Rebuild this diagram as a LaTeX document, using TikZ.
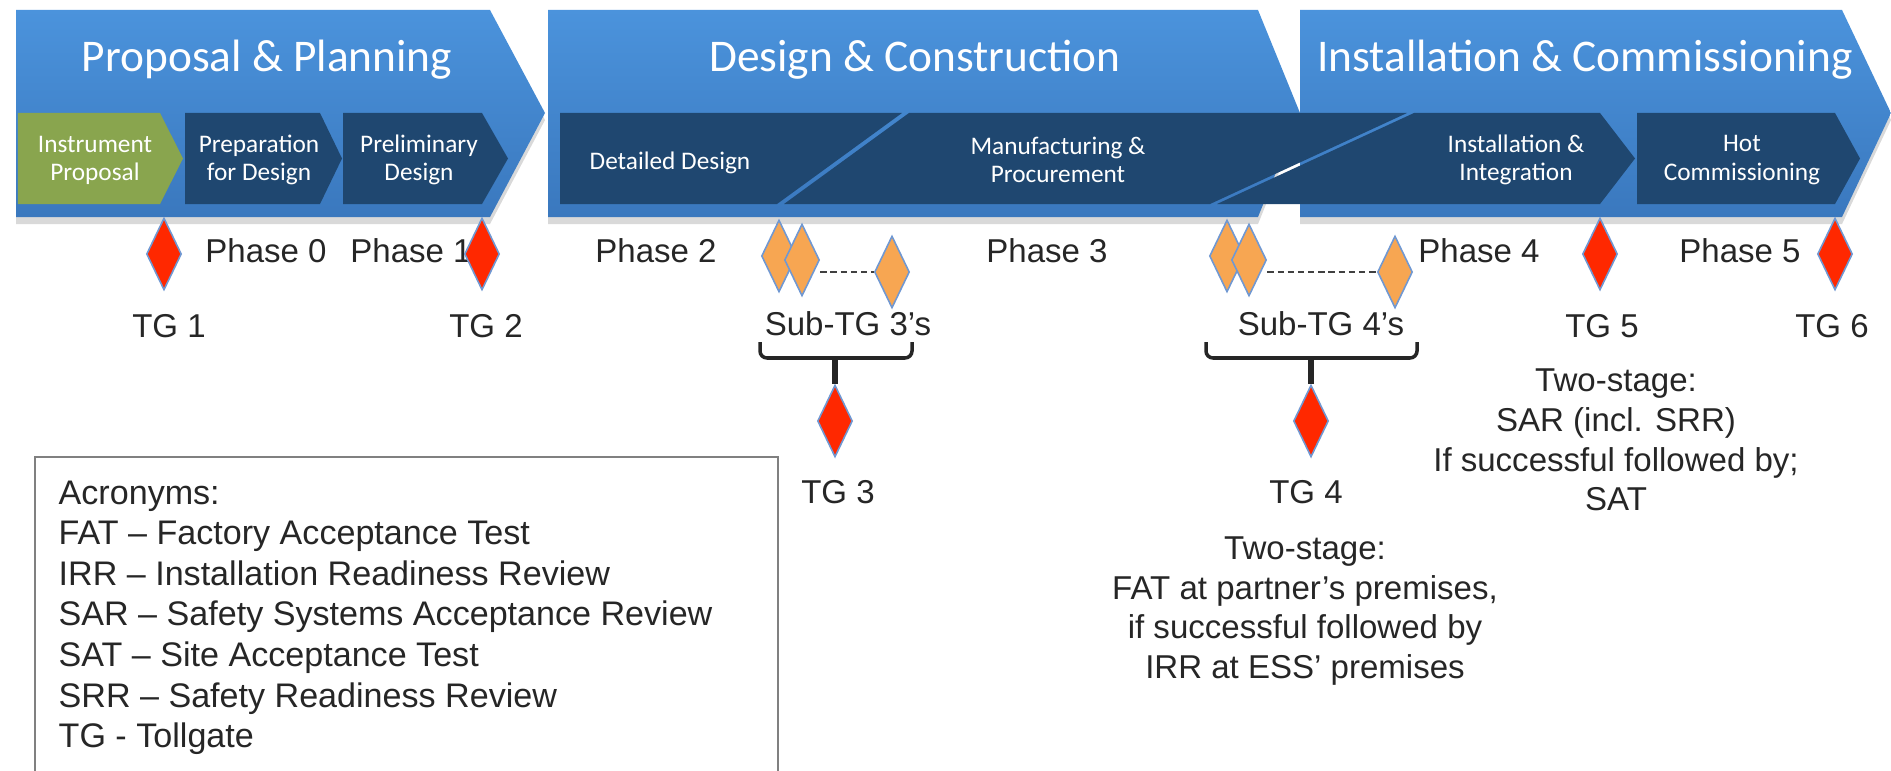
\documentclass[tikz,border=0pt]{standalone}
\usepackage{fontspec}
\setmainfont{Liberation Sans}
\newfontfamily\calibri{Carlito}
\usetikzlibrary{shapes.geometric,shadows,calc}
\definecolor{phblue}{RGB}{75,147,220}
\definecolor{phbluedk}{RGB}{58,120,190}
\definecolor{stnavy}{RGB}{31,71,112}
\definecolor{stgreen}{RGB}{137,165,78}
\definecolor{tgred}{RGB}{255,40,0}
\definecolor{tgorange}{RGB}{247,166,82}
\definecolor{tgedge}{RGB}{112,152,210}

\begin{document}
\begin{tikzpicture}[
    phase/.style={top color=phblue, bottom color=phbluedk,
                  drop shadow={shadow xshift=0pt, shadow yshift=-2pt, opacity=0.3}},
    stage/.style={fill=stnavy},
    title/.style={font=\calibri\fontsize{12.9}{15}\selectfont, text=white, anchor=base},
    stagetxt/.style={font=\calibri\fontsize{7.2}{8}\selectfont, text=white, align=center},
    gate/.style={diamond, draw=tgedge, line width=0.45pt, fill=tgred,
                 minimum width=0.35cm, minimum height=0.72cm, inner sep=0pt},
    subgate/.style={gate, fill=tgorange},
    lbl/.style={font=\fontsize{9.4}{11.3}\selectfont, text=black!85, anchor=base},
    note/.style={font=\fontsize{9.4}{11.3}\selectfont, text=black!85, align=center},
    brace/.style={line width=1pt, rounded corners=2pt, black!85},
    stem/.style={line width=1.5pt, black!85},
    dashline/.style={dash pattern=on 1.8pt off 1.1pt, line width=0.8pt, black!75}
  ]
  \useasboundingbox (0,0) rectangle (18.91,7.70);

  \path[phase] (0.16,7.60) -- (4.90,7.60) -- (5.45,6.57) -- (4.90,5.53) -- (0.16,5.53) -- cycle;
  \path[phase] (5.48,7.60) -- (12.58,7.60) -- (13.00,6.57) -- (12.58,5.53) -- (5.48,5.53) -- cycle;
  \path[phase] (13.00,7.60) -- (18.42,7.60) -- (18.91,6.57) -- (18.42,5.53) -- (13.00,5.53) -- cycle;

  \fill[stgreen] (0.18,6.57) -- (1.60,6.57) -- (1.83,6.115) -- (1.60,5.66) -- (0.18,5.66) -- cycle;
  \fill[stage] (1.85,6.57) -- (3.20,6.57) -- (3.42,6.115) -- (3.20,5.66) -- (1.85,5.66) -- cycle;
  \fill[stage] (3.43,6.57) -- (4.82,6.57) -- (5.08,6.115) -- (4.82,5.66) -- (3.43,5.66) -- cycle;
  \fill[stage] (5.60,6.57) -- (9.02,6.57) -- (7.77,5.66) -- (5.60,5.66) -- cycle;
  \fill[stage] (9.09,6.57) -- (14.07,6.57) -- (12.10,5.66) -- (7.84,5.66) -- cycle;
  \fill[stage] (14.14,6.57) -- (16.00,6.57) -- (16.35,6.115) -- (16.00,5.66) -- (12.17,5.66) -- cycle;
  \fill[stage] (16.37,6.57) -- (18.35,6.57) -- (18.60,6.115) -- (18.35,5.66) -- (16.37,5.66) -- cycle;

  \node[title] (pp) at (2.67,6.98) {Proposal \& Planning};
  \node[title] (dc) at (9.15,6.98) {Design \& Construction};
  \node[title] (ic) at (15.85,6.98) {Installation \& Commissioning};

  \node[stagetxt] (ip) at (0.95,6.10) {Instrument\\Proposal};
  \node[stagetxt] (pd) at (2.59,6.10) {Preparation\\for Design};
  \node[stagetxt] (prd) at (4.19,6.10) {Preliminary\\Design};
  \node[stagetxt] (dd) at (6.70,6.07) {Detailed Design};
  \node[stagetxt] (mp) at (10.58,6.10) {Manufacturing \&\\Procurement};
  \node[stagetxt] (ii) at (15.16,6.10) {Installation \&\\Integration};
  \node[stagetxt] (hc) at (17.42,6.10) {Hot\\Commissioning};

  \node[lbl] (ph0) at (2.66,5.08) {Phase 0};
  \node[lbl] (ph1) at (4.11,5.08) {Phase 1};
  \node[lbl] (ph2) at (6.56,5.08) {Phase 2};
  \node[lbl] (ph3) at (10.47,5.08) {Phase 3};
  \node[lbl] (ph4) at (14.79,5.08) {Phase 4};
  \node[lbl] (ph5) at (17.40,5.08) {Phase 5};

  \node[gate] (tg1) at (1.64,5.16) {};
  \node[gate] (tg2) at (4.82,5.16) {};
  \node[gate] (tg5) at (16.00,5.16) {};
  \node[gate] (tg6) at (18.35,5.16) {};
  \node[subgate] (s3a) at (7.79,5.14) {};
  \node[subgate] (s3b) at (8.02,5.10) {};
  \node[subgate] (s3c) at (8.92,4.98) {};
  \node[subgate] (s4a) at (12.27,5.14) {};
  \node[subgate] (s4b) at (12.49,5.10) {};
  \node[subgate] (s4c) at (13.95,4.98) {};
  \draw[dashline] (s3b.east |- s3c.west) -- (s3c.west);
  \draw[dashline] (s4b.east |- s4c.west) -- (s4c.west);

  \node[lbl] (l1) at (1.69,4.33) {TG 1};
  \node[lbl] (l2) at (4.86,4.33) {TG 2};
  \node[lbl] (l5) at (16.02,4.33) {TG 5};
  \node[lbl] (l6) at (18.32,4.33) {TG 6};
  \node[lbl] (sub3) at (8.48,4.35) {Sub-TG 3’s};
  \node[lbl] (sub4) at (13.21,4.35) {Sub-TG 4’s};

  \draw[brace] (7.60,4.28) -- (7.60,4.12) -- (9.12,4.12) -- (9.12,4.28);
  \draw[brace] (12.06,4.28) -- (12.06,4.12) -- (14.17,4.12) -- (14.17,4.28);
  \coordinate (b3) at (8.35,4.12);
  \coordinate (b4) at (13.11,4.12);
  \node[gate] (tg3) at (8.35,3.49) {};
  \node[gate] (tg4) at (13.11,3.49) {};
  \draw[stem] (b3) -- (tg3.north);
  \draw[stem] (b4) -- (tg4.north);
  \node[lbl] (l3) at (8.38,2.67) {TG 3};
  \node[lbl] (l4) at (13.06,2.67) {TG 4};

  \node[note] (n4) at (13.05,1.59) {Two-stage:\\FAT at partner’s premises,\\if successful followed by\\IRR at ESS’ premises};
  \node[note] (n5) at (16.16,3.30) {Two-stage:\\SAR (incl. SRR)\\If successful followed by;\\SAT};

  \draw[black!50, line width=0.6pt] (0.35,-0.1) -- (0.35,3.13) -- (7.78,3.13) -- (7.78,-0.1);
  \node[font=\fontsize{9.7}{11.55}\selectfont, text=black!85, align=left,
        inner sep=0pt, anchor=north west] (acro) at (0.58,2.90)
    {Acronyms:\\FAT – Factory Acceptance Test\\IRR – Installation Readiness Review\\
     SAR – Safety Systems Acceptance Review\\SAT – Site Acceptance Test\\
     SRR – Safety Readiness Review\\TG - Tollgate};
\end{tikzpicture}
\end{document}
